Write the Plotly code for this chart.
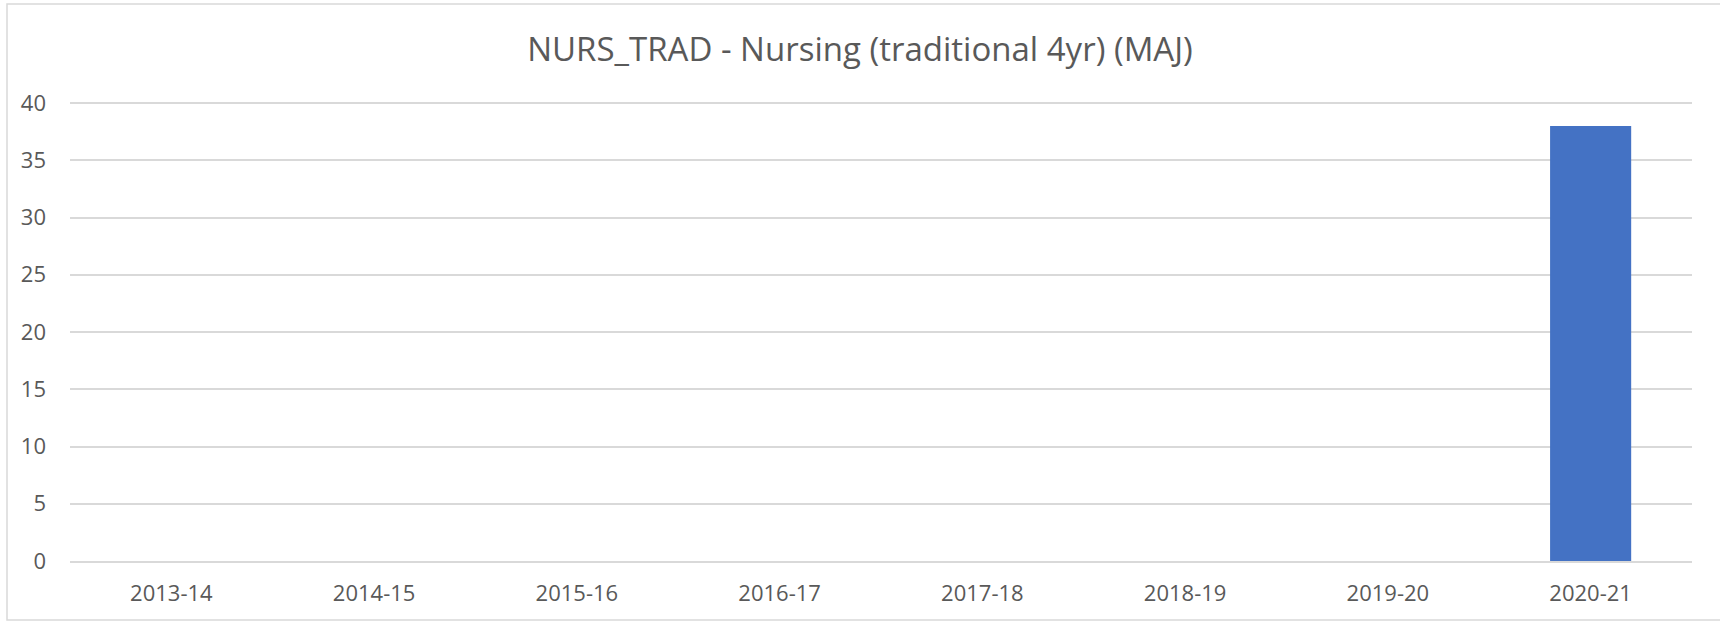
import plotly.graph_objects as go

categories = ["2013-14", "2014-15", "2015-16", "2016-17", "2017-18", "2018-19", "2019-20", "2020-21"]
values = [0, 0, 0, 0, 0, 0, 0, 38]
y_ticks = [0, 5, 10, 15, 20, 25, 30, 35, 40]
title_text = "NURS_TRAD - Nursing (traditional 4yr) (MAJ)"

W, H = 1720, 622
L, R, T, B = 70, 28, 99, 61
pw, ph = W - L - R, H - T - B

fig = go.Figure(go.Bar(x=categories, y=values, marker_color="#4472C4", marker_line_width=0))

fig.update_layout(
    width=W, height=H,
    margin=dict(l=L, r=R, t=T, b=B),
    paper_bgcolor="white", plot_bgcolor="white",
    bargap=0.6,
    showlegend=False,
    title=dict(text=title_text, x=0.5, xanchor="center", y=1 - 49 / H, yanchor="middle",
               font=dict(family="Open Sans", size=33, color="#595959")),
    font=dict(family="Open Sans", color="#595959"),
)
fig.update_xaxes(showgrid=False, showline=True, linecolor="#d9d9d9", linewidth=1.5,
                 tickfont=dict(size=22, color="#595959"), ticks="", ticklabelstandoff=12)
fig.update_yaxes(range=[0, 40.35], tickvals=y_ticks, showgrid=True, gridcolor="#d9d9d9", gridwidth=1.5,
                 zeroline=False, showline=False, tickfont=dict(size=22, color="#595959"),
                 ticks="", ticklabelstandoff=23)

fig.add_shape(type="rect", xref="paper", yref="paper",
              x0=(7 - L) / pw, x1=(1735 - L) / pw, y0=(H - B - 620) / ph, y1=(H - B - 4) / ph,
              line=dict(color="#d9d9d9", width=1.5), fillcolor="rgba(0,0,0,0)", layer="below")

fig.write_html("out.html", config={"displayModeBar": False},
               post_script="document.body.style.margin='0';document.body.style.overflow='hidden';")
